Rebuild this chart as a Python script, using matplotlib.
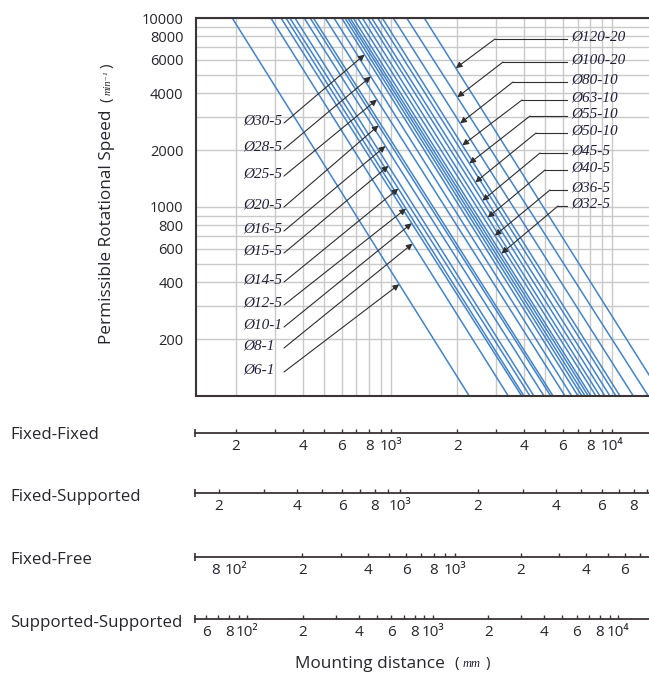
import numpy as np
import matplotlib
matplotlib.use('Agg')
import matplotlib.pyplot as plt
from matplotlib.ticker import FixedLocator, FixedFormatter, NullFormatter
from matplotlib.lines import Line2D

# ---------------- data ----------------
# mounting distance (Fixed-Fixed scale, mm) where each line crosses 10000 min^-1 and 100 min^-1
top_L = [192, 287, 319, 336, 350, 369, 406, 432, 447, 505, 554, 600, 621, 639, 655,
         677, 709, 744, 787, 820, 873, 916, 1027, 1181, 1418]
bottom_L = [2265, 3400, 3910, 4000, 4260, 4440, 4930, 5290, 5420, 6140, 6580, 7030, 7320, 7560, 7820,
            8040, 8470, 8830, 9300, 9800, 10430, 10880, 12500, 14600, 16900]
n_top, n_bottom = 10000, 100

left_labels = ['Ø30-5', 'Ø28-5', 'Ø25-5', 'Ø20-5', 'Ø16-5', 'Ø15-5', 'Ø14-5', 'Ø12-5', 'Ø10-1', 'Ø8-1', 'Ø6-1']
left_line = [11, 10, 9, 7, 6, 5, 4, 3, 2, 1, 0]
left_tip_n = [6400, 4900, 3700, 2700, 2100, 1650, 1250, 980, 820, 640, 390]

right_labels = ['Ø120-20', 'Ø100-20', 'Ø80-10', 'Ø63-10', 'Ø55-10', 'Ø50-10', 'Ø45-5', 'Ø40-5', 'Ø36-5', 'Ø32-5']
right_line = [24, 23, 22, 21, 20, 19, 18, 17, 16, 15]
right_tip_n = [5430, 3810, 2770, 2120, 1700, 1350, 1080, 880, 706, 567]

y_grid = [200, 300, 400, 500, 600, 700, 800, 900,
          1000, 2000, 3000, 4000, 5000, 6000, 7000, 8000, 9000, 10000]
y_labelled = {200: '200', 400: '400', 600: '600', 800: '800', 1000: '1000',
              2000: '2000', 4000: '4000', 6000: '6000', 8000: '8000', 10000: '10000'}
x_grid = [200, 300, 400, 500, 600, 700, 800, 900,
          1000, 2000, 3000, 4000, 5000, 6000, 7000, 8000, 9000, 10000]

scale_names = ['Fixed-Fixed', 'Fixed-Supported', 'Fixed-Free', 'Supported-Supported']
scale_ticks = [
    [200, 300, 400, 500, 600, 700, 800, 900, 1000, 2000, 3000, 4000, 5000, 6000, 7000, 8000, 9000, 10000],
    [200, 300, 400, 500, 600, 700, 800, 900, 1000, 2000, 3000, 4000, 5000, 6000, 7000, 8000, 9000],
    [80, 100, 200, 300, 400, 500, 600, 700, 800, 900, 1000, 2000, 3000, 4000, 5000, 6000, 7000],
    [60, 70, 80, 90, 100, 200, 300, 400, 500, 600, 700, 800, 900, 1000, 2000, 3000, 4000, 5000,
     6000, 7000, 8000, 9000, 10000],
]
scale_labels = [
    {200: '2', 400: '4', 600: '6', 800: '8', 1000: '10³', 2000: '2', 4000: '4', 6000: '6', 8000: '8', 10000: '10⁴'},
    {200: '2', 400: '4', 600: '6', 800: '8', 1000: '10³', 2000: '2', 4000: '4', 6000: '6', 8000: '8'},
    {80: '8', 100: '10²', 200: '2', 400: '4', 600: '6', 800: '8', 1000: '10³', 2000: '2', 4000: '4', 6000: '6'},
    {60: '6', 80: '8', 100: '10²', 200: '2', 400: '4', 600: '6', 800: '8', 1000: '10³', 2000: '2',
     4000: '4', 6000: '6', 8000: '8', 10000: '10⁴'},
]
scale_unmarked = [[], [], [80, 100], []]

# ---------------- layout ----------------
W, H = 649, 674
plt.rcParams['font.family'] = ['Open Sans', 'DejaVu Sans']
TXT = '#26262e'
GRID = '#c9c9c9'
BLUE = '#4483c6'
FRAME = '#3a3434'
SERIF_IT = dict(family=['Liberation Serif', 'DejaVu Serif'], style='italic')

fig = plt.figure(figsize=(W / 100, H / 100), dpi=100)


def fx(x):
    return x / W


def fy(y):
    return 1 - y / H


def px_axes(l, t, r, b):
    return fig.add_axes([fx(l), fy(b), (r - l) / W, (b - t) / H])


ax = px_axes(196, 18, 649, 396)
ax.set_xscale('log')
ax.set_yscale('log')
ax.set_xlim(131.7, 14714)
ax.set_ylim(100, 10000)
ax.set_axisbelow(True)

ax.xaxis.set_major_locator(FixedLocator(x_grid))
ax.xaxis.set_major_formatter(NullFormatter())
ax.xaxis.set_minor_locator(FixedLocator([]))
ax.yaxis.set_major_locator(FixedLocator(y_grid))
ax.yaxis.set_major_formatter(FixedFormatter([y_labelled.get(v, '') for v in y_grid]))
ax.yaxis.set_minor_locator(FixedLocator([]))
ax.tick_params(axis='both', which='both', length=0)
ax.tick_params(axis='y', pad=9, labelsize=10.5, labelcolor=TXT)
ax.grid(True, which='major', color=GRID, lw=1.0)
for s in ['left', 'top', 'bottom']:
    ax.spines[s].set_color(FRAME)
    ax.spines[s].set_linewidth(1.5)
ax.spines['right'].set_visible(False)

for tL, bL in zip(top_L, bottom_L):
    ax.plot([tL, bL], [n_top, n_bottom], color=BLUE, lw=1.1, solid_capstyle='butt')


def L_at(i, n):
    t = (np.log10(n_top) - np.log10(n)) / (np.log10(n_top) - np.log10(n_bottom))
    a, b = np.log10(top_L[i]), np.log10(bottom_L[i])
    return 10 ** (a + t * (b - a))


ARROW = dict(arrowstyle='-|>', color='#2e2e2e', lw=0.8, mutation_scale=9, shrinkA=0, shrinkB=0)
LBL = dict(fontsize=11, color='#20203a', **SERIF_IT)

left_y = [121, 147, 174, 205, 229, 251, 280, 303, 325, 346, 370]
for lab, idx, n, yy in zip(left_labels, left_line, left_tip_n, left_y):
    fig.text(fx(243), fy(yy), lab, ha='left', va='center', **LBL)
    ax.annotate('', xy=(L_at(idx, n), n), xycoords='data',
                xytext=(fx(284), fy(yy + 2)), textcoords='figure fraction', arrowprops=ARROW)

right_y = [37, 60, 80, 98, 114, 131, 151, 168, 188, 204]
right_bend = [495, 503, 513, 522, 530, 536, 540, 545, 550, 558]
for lab, idx, n, yy, xb in zip(right_labels, right_line, right_tip_n, right_y, right_bend):
    fig.text(fx(571), fy(yy), lab, ha='left', va='center', **LBL)
    fig.add_artist(Line2D([fx(xb), fx(567)], [fy(yy + 2), fy(yy + 2)], color='#2e2e2e', lw=0.8))
    ax.annotate('', xy=(L_at(idx, n), n), xycoords='data',
                xytext=(fx(xb), fy(yy + 2)), textcoords='figure fraction', arrowprops=ARROW)

# y-axis label
fig.text(fx(107), fy(344), 'Permissible Rotational Speed', rotation=90, ha='center', va='bottom',
         fontsize=12.4, color=TXT)
fig.text(fx(107), fy(100), '(', rotation=90, ha='center', va='center', fontsize=11, color=TXT)
fig.text(fx(108), fy(83), 'min⁻¹', rotation=90, ha='center', va='center', fontsize=7.5, color=TXT,
         **SERIF_IT)
fig.text(fx(107), fy(66), ')', rotation=90, ha='center', va='center', fontsize=11, color=TXT)

# bottom scales
rows_y = [433, 493, 557, 619]
rows_lim = [(130.4, 14715), (162, 9150), (64.6, 7731), (52.3, 14690)]
rows_name_y = [435, 497, 560, 623]
for name, ticks, labs, unmarked, ly, lim, ny in zip(scale_names, scale_ticks, scale_labels,
                                                    scale_unmarked, rows_y, rows_lim, rows_name_y):
    sa = px_axes(195, ly - 1, 649, ly)
    sa.set_xscale('log')
    sa.set_xlim(*lim)
    sa.set_ylim(0, 1)
    sa.patch.set_visible(False)
    for s in ['left', 'top', 'right']:
        sa.spines[s].set_visible(False)
    sa.spines['bottom'].set_color(FRAME)
    sa.spines['bottom'].set_linewidth(1.3)
    sa.set_yticks([])
    sa.xaxis.set_major_locator(FixedLocator(ticks))
    sa.xaxis.set_major_formatter(FixedFormatter([labs.get(v, '') for v in ticks]))
    sa.xaxis.set_minor_locator(FixedLocator([lim[0] * 1.002]))
    sa.xaxis.set_minor_formatter(NullFormatter())
    sa.tick_params(axis='x', which='major', direction='in', length=2.6, width=1.0, color=FRAME,
                   pad=4, labelsize=11, labelcolor=TXT)
    sa.tick_params(axis='x', which='minor', direction='inout', length=6, width=1.2, color=FRAME)
    for tk, v in zip(sa.xaxis.get_major_ticks(), ticks):
        if v in unmarked:
            tk.tick1line.set_visible(False)
    fig.text(fx(10), fy(ny), name, ha='left', va='center', fontsize=12.2, color=TXT)

fig.text(fx(295), fy(664), 'Mounting distance', ha='left', va='center', fontsize=12.4, color=TXT)
fig.text(fx(457), fy(663), '(', ha='center', va='center', fontsize=11, color=TXT)
fig.text(fx(472), fy(664), 'mm', ha='center', va='center', fontsize=9, color=TXT, **SERIF_IT)
fig.text(fx(488), fy(663), ')', ha='center', va='center', fontsize=11, color=TXT)

fig.savefig('out.png', dpi=100)
